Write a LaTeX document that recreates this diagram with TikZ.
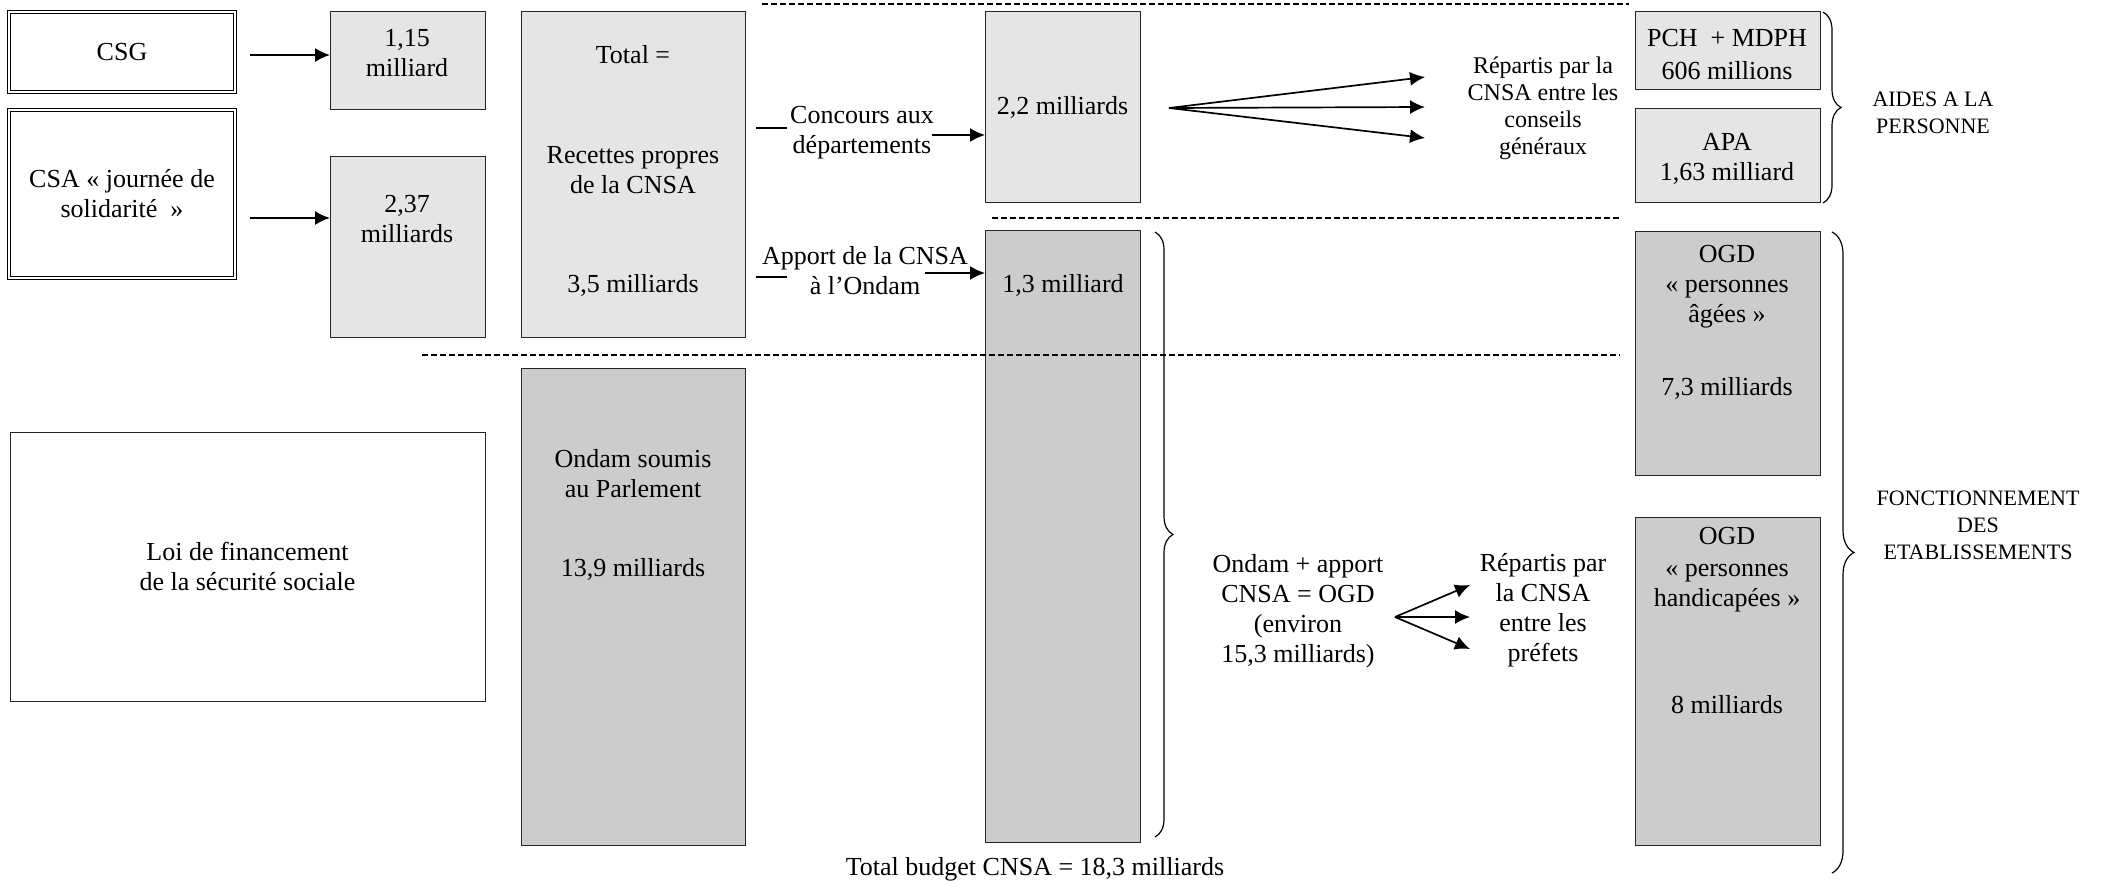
\documentclass[tikz,border=0pt]{standalone}
\usepackage{fontspec}
\setmainfont{Liberation Serif}
\usetikzlibrary{arrows.meta, decorations.pathreplacing}

\begin{document}
\begin{tikzpicture}[
        x=0.5pt, y=-0.5pt, % une unite = un pixel de l'original
        boite/.style = {draw=black!85, line width=0.5pt, inner sep=0pt, outer sep=0pt, anchor=north west, align=center, font=\fontsize{13}{15}\selectfont},
        source/.style = {boite, draw=black, line width=0.6pt, double, double distance=1.1pt},
        clair/.style = {boite, fill=black!10},
        fonce/.style = {boite, fill=black!20},
        texte/.style = {align=center, inner sep=0pt, font=\fontsize{13}{15}\selectfont},
        petit/.style = {align=center, inner sep=0pt, font=\fontsize{11}{13.5}\selectfont},
        fleche/.style = {-{Latex[length=7.5pt, width=7pt]}, line width=0.85pt},
        trait/.style = {line width=0.85pt},
        sep/.style = {dash pattern=on 3pt off 1.5pt, line width=0.6pt},
        accol/.style = {decorate, decoration={brace, amplitude=#1}, line width=0.6pt},
        accol/.default = 9pt,
    ]
    \useasboundingbox (0,0) rectangle (2103,883);

    % sources
    \node[source, minimum width=113pt, minimum height=40pt] (csg) at (9,12) {CSG};
    \node[source, minimum width=113pt, minimum height=84pt] (csa) at (9,110) {CSA « journée de\\solidarité\ \ »};
    \node[boite, minimum width=237.5pt, minimum height=134.5pt] (loi) at (10,432) {Loi de financement\\de la sécurité sociale};

    % recettes
    \node[clair, minimum width=77.5pt, minimum height=49pt] (b115) at (330,12) {};
    \node[texte] (t115) at (407,53) {1,15\\milliard};
    \node[clair, minimum width=77.5pt, minimum height=90.5pt] (b237) at (330,156) {};
    \node[texte] (t237) at (407,219) {2,37\\milliards};
    \node[clair, minimum width=112pt, minimum height=162.5pt] (total) at (521,12) {};
    \node[texte] (ttot) at (633,55) {Total =};
    \node[texte] (trec) at (633,170) {Recettes propres\\de la CNSA};
    \node[texte] (t35) at (633,285) {3,5 milliards};
    \node[fonce, minimum width=112pt, minimum height=238.5pt] (ondam) at (521,368) {};
    \node[texte] (tond) at (633,474) {Ondam soumis\\au Parlement};
    \node[texte] (t139) at (633,569) {13,9 milliards};

    % budget CNSA
    \node[clair, minimum width=77.5pt, minimum height=95pt] (b22) at (985,12) {2,2 milliards};
    \node[fonce, minimum width=77.5pt, minimum height=306pt] (b13) at (985,230) {};
    \node[texte] (t13) at (1063,285) {1,3 milliard};
    \node[texte] (concours) at (862,133) {Concours aux\\départements};
    \node[texte] (apport) at (865,271) {Apport de la CNSA\\à l’Ondam};
    \node[texte] (budget) at (1035,869) {Total budget CNSA = 18,3 milliards};
    \node[texte] (ogd) at (1298,611) {Ondam + apport\\CNSA = OGD\\(environ\\15,3 milliards)};

    % repartition
    \node[texte, font=\fontsize{12}{13.5}\selectfont] (repcg) at (1543,108) {Répartis par la\\CNSA entre les\\conseils\\généraux};
    \node[texte] (reppr) at (1543,610) {Répartis par\\la CNSA\\entre les\\préfets};
    \node[clair, minimum width=92.5pt, minimum height=39pt] (pch) at (1635,12) {};
    \node[texte] (tpch) at (1727,55) {PCH~~+ MDPH\\[1.5pt]606 millions};
    \node[clair, minimum width=92.5pt, minimum height=46.5pt] (apa) at (1635,109) {};
    \node[texte] (tapa) at (1727,159) {APA\\1,63 milliard};
    \node[fonce, minimum width=92.5pt, minimum height=122pt] (ogdpa) at (1635,231) {};
    \node[texte] (tpa) at (1727,287) {OGD\\« personnes\\âgées »};
    \node[texte] (t73) at (1727,388) {7,3 milliards};
    \node[fonce, minimum width=92.5pt, minimum height=164pt] (ogdph) at (1635,517) {};
    \node[texte] (tph) at (1727,570) {OGD\\[1pt]« personnes\\handicapées »};
    \node[texte] (t8) at (1727,705) {8 milliards};
    \node[petit] (aides) at (1933,113) {AIDES A LA\\PERSONNE};
    \node[petit] (fonct) at (1978,525) {FONCTIONNEMENT\\DES\\ETABLISSEMENTS};

    % fleches
    \coordinate (a1) at (250,55);
    \coordinate (a2) at (250,218);
    \draw[fleche] (a1) -- (a1 -| b115.west);
    \draw[fleche] (a2) -- (a2 -| b237.west);
    \coordinate (c1) at (756,128);
    \coordinate (c1e) at (787,128);
    \coordinate (c2) at (932,135);
    \draw[trait] (c1) -- (c1e);
    \draw[fleche] (c2) -- (c2 -| b22.west);
    \coordinate (c3) at (756,277);
    \coordinate (c3e) at (787,277);
    \coordinate (c4) at (925,273);
    \draw[trait] (c3) -- (c3e);
    \draw[fleche] (c4) -- (c4 -| b13.west);
    \coordinate (f1) at (1169,108);
    \foreach \y [count=\i] in {77,107,138} {
        \coordinate (g\i) at (1425,\y);
        \draw[fleche] (f1) -- (g\i);
    }
    \coordinate (f2) at (1395,617);
    \foreach \y [count=\i] in {585,617,649} {
        \coordinate (h\i) at (1470,\y);
        \draw[fleche] (f2) -- (h\i);
    }

    % separateurs
    \draw[sep] (762,4) -- (1629,4);
    \draw[sep] (992,218) -- (1620,218);
    \draw[sep] (422,355) -- (1620,355);

    % accolades
    \draw[accol] (1823,12) -- (1823,203);
    \draw[accol] (1155,232) -- (1155,837);
    \draw[accol=11pt] (1832,232) -- (1832,873);
\end{tikzpicture}
\end{document}
